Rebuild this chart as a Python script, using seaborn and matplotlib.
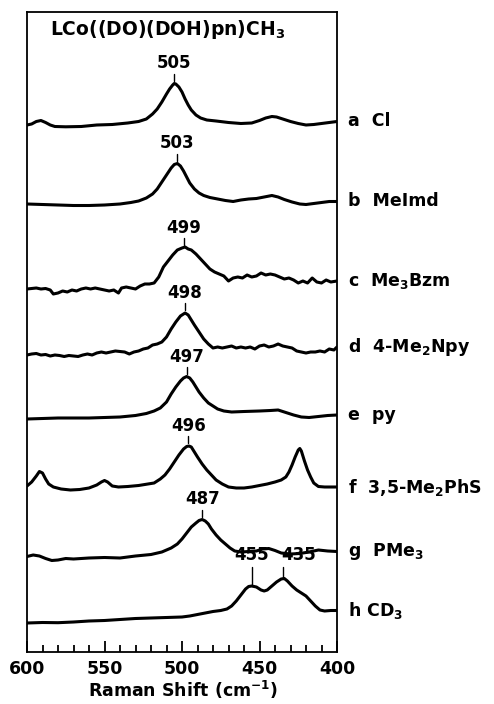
import numpy as np
import pandas as pd
import matplotlib
matplotlib.use("Agg")
import matplotlib.pyplot as plt
import seaborn as sns

sns.set_style("ticks")
plt.rcParams['font.family'] = ['DejaVu Sans']
plt.rcParams['font.weight'] = 'bold'
plt.rcParams['mathtext.fontset'] = 'custom'
plt.rcParams['mathtext.rm'] = 'DejaVu Sans:bold'
plt.rcParams['mathtext.it'] = 'DejaVu Sans:bold'
plt.rcParams['mathtext.bf'] = 'DejaVu Sans:bold'
plt.rcParams['text.color'] = 'black'
plt.rcParams['axes.labelcolor'] = 'black'
plt.rcParams['xtick.color'] = 'black'
plt.rcParams['axes.edgecolor'] = 'black'

# %%
# spectra (shift in cm-1, intensity above each trace's baseline)
names = ["a  Cl", "b  MeImd", "c  Me$_3$Bzm", "d  4-Me$_2$Npy", "e  py",
         "f  3,5-Me$_2$PhS", "g  PMe$_3$", "h CD$_3$"]
offsets = [527, 448, 363, 297, 234, 165, 95, 29]

shift_a = [600, 597, 594, 591, 588, 585, 582, 575, 565, 555, 545, 535, 528, 523, 519, 516, 513, 510, 508, 506, 505,
           504, 502, 500, 498, 496, 494, 491, 488, 484, 478, 470, 462, 455, 450, 446, 442, 439, 435, 430, 425, 420,
           415, 410, 405, 400]
int_a = [0, 1, 3.5, 4.5, 2.5, 0, -1.5, -1.8, -1.5, 0, 0.5, 2, 3.5, 6, 11, 16, 23, 31, 36, 40, 41.5,
         41, 38, 33, 26, 20, 15, 10, 7, 5, 4, 2.5, 1.5, 2, 4.5, 7, 8.5, 8, 6, 3.5, 1.5, 0,
         0.5, 1.5, 2.5, 3.5]

shift_b = [600, 590, 580, 570, 560, 550, 540, 533, 528, 523, 519, 516, 513, 510, 507, 505, 503, 501, 499, 497, 495,
           492, 489, 486, 482, 477, 472, 467, 462, 457, 452, 447, 442, 438, 434, 429, 424, 420, 415, 410, 405, 400]
int_b = [0, -0.5, -1, -1.5, -1.5, -1, 0, 1.5, 3, 6, 10, 15, 22, 29, 36, 39.5, 40.5, 38, 33, 27, 21,
         15, 11, 8.5, 6.5, 5, 3.5, 2.5, 4, 5, 5.5, 7, 8.5, 7, 4.5, 2, 0, -0.5, 0.5, 1.5, 2.5, 2.5]

shift_c = [600, 597, 594, 591, 588, 585, 583, 580, 577, 574, 571, 568, 565, 562, 559, 556, 553, 550, 547, 544, 541,
           539, 536, 533, 530, 527, 524, 521, 518, 515, 512, 509, 506, 503, 500, 498, 496, 494, 491, 488, 485, 482,
           479, 476, 473, 470, 467, 464, 461, 458, 455, 452, 449, 446, 443, 440, 437, 434, 431, 428, 425, 422, 419,
           416, 413, 410, 407, 404, 400]
int_c = [0, 0.5, 1, 0, 0.5, -1, -5, -4, -2, -3, -1, -2, 0, 1, 0, 1, 0, -1, -2, -1, -4,
         1, 2, 1, 0, 3, 5, 5, 6, 12, 22, 28, 34, 39, 41, 42, 40, 39, 35, 30, 25, 20,
         17, 15, 13, 8, 11, 12, 11, 14, 12, 13, 16, 14, 15, 14, 12, 10, 11, 9, 6, 8, 6,
         11, 7, 6, 9, 7, 8]

shift_d = [600, 597, 594, 591, 588, 585, 582, 579, 576, 573, 570, 567, 564, 561, 558, 555, 552, 549, 546, 543, 540,
           537, 534, 531, 528, 525, 522, 519, 516, 513, 510, 507, 504, 501, 498, 496, 494, 492, 489, 486, 483, 480,
           477, 474, 471, 468, 465, 462, 459, 456, 453, 450, 447, 444, 441, 438, 435, 432, 429, 426, 423, 420, 417,
           414, 411, 408, 405, 402, 400]
int_d = [0, 1, 1.5, 0, 0.5, -1, 0, -0.5, -1.5, -0.5, -1, -1.5, 0, 1, 0, 2, 3, 2, 3, 4, 3.5,
         3, 1, 3, 4, 6, 7, 10, 11, 13, 18, 26, 33, 39, 42, 40, 35, 30, 23, 16, 11, 7,
         8, 7, 8, 9, 7, 8, 7, 8, 6, 9, 10, 8, 9, 11, 9, 8, 7, 4, 3, 2, 3,
         3, 4, 3, 6, 5, 8]

shift_e = [600, 590, 580, 570, 560, 550, 540, 530, 523, 518, 514, 510, 507, 504, 501, 499, 497, 495, 493, 491, 489,
           486, 483, 480, 477, 473, 468, 460, 450, 443, 438, 433, 428, 423, 418, 412, 406, 400]
int_e = [-1, -0.5, 0, 0, 0, 0.5, 1, 2.5, 4.5, 7, 10, 16, 24, 31, 37, 40, 41.5, 40, 36, 31, 26,
         20, 15, 12, 9, 7, 6, 6.5, 7, 7.5, 8, 5.5, 3, 1, 0.5, 1.5, 2.5, 3]

shift_f = [600, 597, 594, 592, 590, 588, 586, 583, 578, 572, 566, 560, 555, 552, 550, 548, 545, 541, 535, 528, 522,
           518, 514, 511, 508, 505, 502, 499, 497, 495.5, 494, 492, 490, 487, 484, 481, 478, 474, 470, 465, 460,
           455, 450, 445, 440, 436, 433, 431, 429, 427, 425, 424, 423, 421, 419, 417, 415, 412, 408, 400]
int_f = [1, 5, 11, 15.5, 14, 8, 3, 0, -2, -3, -2.5, -1, 2, 5, 6.5, 5, 1, 0, 0.5, 1.5, 3,
         4, 8, 12, 18, 25, 32, 38, 40.5, 41, 40, 35, 30, 23, 17, 12, 7, 3, 0, -1, -1,
         0, 1.5, 3, 5, 7, 10, 15, 22, 30, 37, 38.5, 36, 26, 17, 10, 4, 0.5, 0, 0]

shift_g = [600, 596, 592, 588, 584, 580, 575, 570, 560, 550, 540, 530, 520, 513, 507, 503, 500, 497, 494, 491, 489,
           487, 485, 483, 481, 478, 475, 472, 469, 466, 462, 457, 452, 448, 444, 440, 436, 430, 424, 418, 412, 406,
           400]
int_g = [0.5, 2, 1, -1.5, -3.5, -3, -1.5, -2, -1, -0.5, -1, 1, 2.5, 5, 9, 13, 18, 24, 30, 34, 36.5,
         37.5, 36, 33, 28, 22, 17, 13, 9, 6, 5, 5.5, 6, 8, 8.5, 6.5, 4, 3, 3.5, 5, 7, 6,
         5.5]

shift_h = [600, 590, 580, 570, 560, 550, 540, 530, 520, 510, 500, 495, 490, 485, 480, 475, 471, 468, 465, 462, 459,
           457, 455, 452, 449, 447, 445, 442, 439, 436, 434, 432, 429, 426, 423, 420, 417, 414, 411, 408, 404, 400]
int_h = [0, 0.5, 0.3, 1, 2, 2.5, 3.5, 4.5, 5, 5.5, 6, 7, 8.5, 10, 11.5, 12.5, 14, 17, 22, 28, 34,
         36.5, 37, 36, 33, 32, 33, 37, 41, 44, 44.5, 42, 37, 33, 30, 27, 22, 17, 13, 12, 12.5, 12.5]

shifts = [shift_a, shift_b, shift_c, shift_d, shift_e, shift_f, shift_g, shift_h]
intens = [int_a, int_b, int_c, int_d, int_e, int_f, int_g, int_h]

# peak positions marked on each trace
peak_labels = [505, 503, 499, 498, 497, 496, 487]
h_peaks = [455, 435]

# %%
frames = []
for i in range(len(names)):
    frames.append(pd.DataFrame({'shift': shifts[i],
                                'y': np.array(intens[i]) + offsets[i],
                                'sample': names[i]}))
df = pd.concat(frames, ignore_index=True)

fig = plt.figure(figsize=(4.94, 7.04), dpi=100)
ax = fig.add_axes([27/494, 1-652/704, 310/494, 640/704])
sns.lineplot(data=df, x='shift', y='y', units='sample', estimator=None, sort=False,
             color='black', lw=2.2, ax=ax, legend=False)
for l in ax.lines:
    l.set_solid_joinstyle('round')
    l.set_solid_capstyle('round')

ax.set_xlim(600, 400)
ax.set_ylim(0, 640)
ax.set_yticks([])
ax.set_xticks([600, 550, 500, 450, 400])
ax.set_xticks(list(range(410, 600, 10)), minor=True)
ax.tick_params(axis='x', which='major', direction='in', length=8, width=1.3, labelsize=12.5, pad=6)
ax.tick_params(axis='x', which='minor', direction='in', length=5, width=1.3)
for s in ax.spines.values():
    s.set_linewidth(1.3)
for t in ax.get_xticklabels():
    t.set_fontweight('bold')
ax.set_xlabel("Raman Shift (cm$^{-1}$)", fontsize=12.5, fontweight='bold')
ax.xaxis.set_label_coords(0.503, -0.059)
ax.xaxis.label.set_va('center')
ax.set_ylabel("")

ax.text(0.074, 0.972, "LCo((DO)(DOH)pn)CH$_3$", transform=ax.transAxes, fontsize=13.5,
        fontweight='bold', ha='left', va='center')

# peak labels with small marker lines
for i, p in enumerate(peak_labels):
    xs = np.array(shifts[i])
    top = offsets[i] + np.array(intens[i])[np.argmin(np.abs(xs - p))]
    ax.plot([p, p], [top + 3, top + 10], color='black', lw=1.0)
    ax.text(p, top + 20, str(p), ha='center', va='center', fontsize=12, fontweight='bold')

xs = np.array(shift_h)
for p, lx in zip(h_peaks, [455, 424.5]):
    top = offsets[7] + np.array(int_h)[np.argmin(np.abs(xs - p))]
    ax.plot([p, p], [top, 85], color='black', lw=1.0)
    ax.text(lx, 97, str(p), ha='center', va='center', fontsize=12, fontweight='bold')

# trace names at the right edge
for i, n in enumerate(names):
    yend = offsets[i] + intens[i][-1]
    ax.annotate(n, xy=(400, yend), xytext=(8, 0), textcoords='offset points',
                ha='left', va='center', fontsize=12.5, fontweight='bold', annotation_clip=False)

fig.savefig('out.png', dpi=100)
